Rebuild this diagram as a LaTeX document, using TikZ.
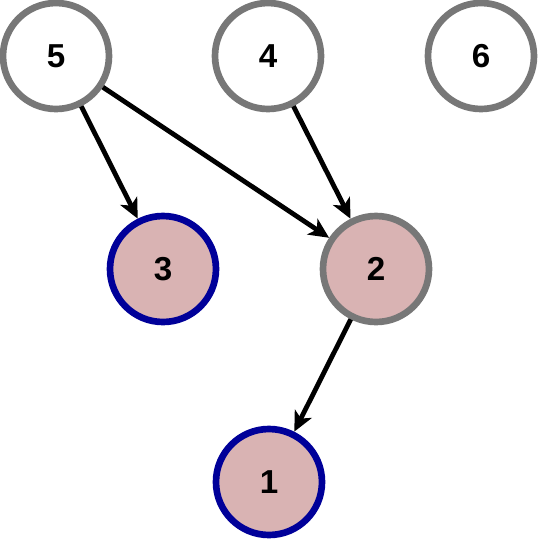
\documentclass[tikz,border=0pt]{standalone}
\usepackage{fontspec}
\setmainfont{Liberation Sans}
\usetikzlibrary{arrows.meta}

\tikzset{every picture/.style={line width=0.75pt}}
\tikzset{
  vtx/.style={circle, draw={rgb,255:red,119;green,119;blue,119}, line width=5pt, fill=white,
    minimum size=106*0.75pt, inner sep=0pt, font=\Huge\bfseries},
  done/.style={vtx, draw={rgb,255:red,0;green,0;blue,153}, fill={rgb,255:red,217;green,179;blue,179}},
  hit/.style={vtx, fill={rgb,255:red,217;green,179;blue,179}},
  edge/.style={line width=3.6pt, -{Stealth[length=15pt, width=14pt, inset=4pt]}}
}

\begin{document}
\begin{tikzpicture}[x=0.75pt,y=0.75pt,yscale=-1,xscale=1]
\useasboundingbox (0,0) rectangle (540,540);

%Shape: Ellipse [id:n5]
\node [vtx] (n5) at (56,56) {5};
%Shape: Ellipse [id:n4]
\node [vtx] (n4) at (268,56) {4};
%Shape: Ellipse [id:n6]
\node [vtx] (n6) at (481,56) {6};
%Shape: Ellipse [id:n3]
\node [done] (n3) at (163,269) {3};
%Shape: Ellipse [id:n2]
\node [hit] (n2) at (376,269) {2};
%Shape: Ellipse [id:n1]
\node [done] (n1) at (269,482) {1};

%Straight Lines
\draw [edge] (n5) -- (n3);
%Straight Lines
\draw [edge] (n5) -- (n2);
%Straight Lines
\draw [edge] (n4) -- (n2);
%Straight Lines
\draw [edge] (n2) -- (n1);

\end{tikzpicture}
\end{document}
